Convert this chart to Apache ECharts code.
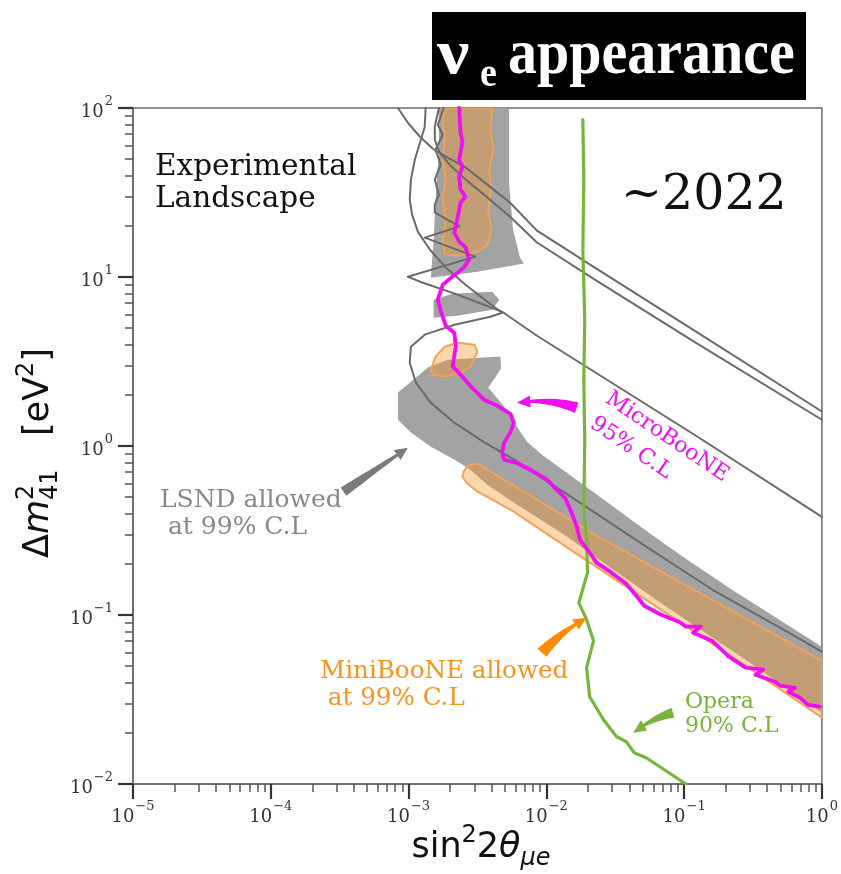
<!DOCTYPE html>
<html><head><meta charset="utf-8">
<script src="https://cdn.jsdelivr.net/npm/echarts@6/dist/echarts.min.js"></script>
<style>html,body{margin:0;padding:0;background:#fff}#c{width:841px;height:874px}</style>
</head><body><div id="c"></div>
<script>
// ---------------- axes ----------------
const xRange = [1e-5, 1];
const yRange = [1e-2, 1e2];

// ---------------- LSND allowed (gray fill) [sin^2 2theta, dm^2] ----------------
const lsndTop = [[1.66e-3,100],[5.37e-3,100],[5.37e-3,35.2],[5.74e-3,19.0],[6.44e-3,13.0],[6.89e-3,12.0],[3.16e-3,10.75],[1.45e-3,9.91],[1.52e-3,16.6],[1.57e-3,28.7],[1.66e-3,56.6]];
const lsndPatch = [[1.52e-3,7.34],[2.09e-3,7.96],[4.05e-3,8.18],[4.55e-3,7.34],[4.05e-3,6.41],[2.27e-3,5.90],[1.52e-3,5.74]];
const lsndMain = [[8.38e-4,2.07],[1.04e-3,2.40],[1.38e-3,2.91],[1.92e-3,3.24],[4.63e-3,3.38],[4.70e-3,2.87],[3.79e-3,2.21],[4.94e-3,1.71],[6.13e-3,1.30],[7.24e-3,1.06],[9.29e-3,0.889],[2.56e-2,0.488],[5.30e-2,0.315],[9.79e-2,0.221],[0.236,0.137],[1,0.0649],[1,0.0264],[0.279,0.0544],[6.25e-2,0.123],[3.07e-2,0.185],[1.34e-2,0.299],[6.13e-3,0.449],[3.73e-3,0.590],[2.81e-3,0.724],[2.16e-3,0.830],[1.45e-3,0.991],[1.04e-3,1.20],[8.38e-4,1.43]];

// ---------------- MiniBooNE allowed (orange fill) ----------------
const mbColumn = [[1.80e-3,100],[4.05e-3,100],[3.92e-3,74.4],[4.12e-3,56.6],[3.85e-3,43.2],[3.98e-3,32.9],[3.79e-3,25.0],[3.98e-3,19.0],[3.73e-3,15.5],[3.16e-3,14.1],[2.27e-3,13.4],[1.83e-3,13.7],[1.77e-3,16.6],[1.86e-3,21.8],[1.77e-3,28.7],[1.86e-3,37.7],[1.77e-3,49.4],[1.83e-3,64.9],[1.77e-3,85.3]];
const mbBlob = [[1.45e-3,2.83],[1.57e-3,3.38],[1.83e-3,3.87],[2.27e-3,4.08],[3.01e-3,3.97],[3.16e-3,3.61],[2.81e-3,2.95],[2.38e-3,2.71],[1.83e-3,2.57],[1.50e-3,2.64]];
const mbBand = [[2.51e-3,0.705],[2.68e-3,0.764],[3.16e-3,0.786],[2.31e-2,0.295],[0.122,0.139],[1,0.0537],[1,0.0247],[0.279,0.0501],[5.30e-2,0.123],[1.66e-2,0.230],[5.83e-3,0.408],[4.05e-3,0.481],[3.16e-3,0.537],[2.68e-3,0.598],[2.46e-3,0.658]];

// ---------------- LSND contour lines ----------------
const lsndLineA = [[8.38e-4,100],[9.89e-4,81.8],[1.21e-3,67.6],[1.50e-3,57.4],[1.92e-3,50.8],[2.55e-3,45.0],[3.73e-3,35.2],[5.46e-3,27.5],[8.55e-3,18.8],[2.31e-2,11.2],[0.122,4.75],[1,1.60]];
const lsndLineB = [[1.66e-3,100],[1.55e-3,77.5],[1.55e-3,64.9],[1.68e-3,54.4],[1.99e-3,46.2],[2.55e-3,38.2],[3.73e-3,29.5],[5.46e-3,22.7],[8.55e-3,16.0],[2.31e-2,9.51],[0.122,4.08],[1,1.43]];
const lsndLineC = [[1.33e-3,100],[1.31e-3,77.5],[1.21e-3,62.3],[1.11e-3,49.4],[1.04e-3,37.7],[1.02e-3,28.7],[1.06e-3,23.4],[1.17e-3,18.5],[1.43e-3,14.5],[1.86e-3,11.4],[2.59e-3,9.0],[3.73e-3,7.14],[4.78e-3,6.15],[3.92e-3,5.82],[2.16e-3,5.22],[1.31e-3,4.56],[1.04e-3,3.87],[1.02e-3,3.11],[1.13e-3,2.37],[1.45e-3,1.80],[2.16e-3,1.37],[3.55e-3,1.05],[5.83e-3,0.830],[1.75e-2,0.462],[5.30e-2,0.254],[0.161,0.141],[0.481,0.0853],[1,0.0607]];
const lsndLineD = [[1.80e-3,100],[1.63e-3,79.6],[1.77e-3,69.5],[1.57e-3,56.6],[1.71e-3,46.2],[1.55e-3,37.7],[1.66e-3,30.7],[1.55e-3,26.8],[1.55e-3,24.0],[2.34e-3,19.9],[1.31e-3,17.1],[3.05e-3,13.2],[9.89e-4,10.04],[1.21e-3,9.38],[2.27e-3,7.86],[4.78e-3,6.23],[8.55e-3,4.49],[0.122,1.15],[1,0.381]];

// ---------------- Opera 90% C.L ----------------
const opera = [[1.84e-2,85.3],[1.87e-2,37.7],[1.84e-2,14.5],[1.90e-2,5.59],[1.87e-2,2.47],[1.90e-2,1.09],[1.87e-2,0.437],[1.96e-2,0.279],[1.99e-2,0.178],[1.72e-2,0.118],[1.96e-2,0.0938],[2.20e-2,0.0705],[1.96e-2,0.0488],[2.06e-2,0.0329],[2.60e-2,0.0240],[3.22e-2,0.0191],[3.80e-2,0.0178],[4.34e-2,0.0153],[5.30e-2,0.0143],[0.103,0.01]];

// ---------------- MicroBooNE 95% C.L ----------------
const microboone = [[2.33e-3,100],[2.38e-3,71.4],[2.46e-3,63.2],[2.33e-3,49.4],[2.46e-3,45.0],[2.33e-3,39.2],[2.38e-3,32.9],[2.59e-3,29.9],[2.38e-3,27.5],[2.33e-3,25.0],[2.27e-3,22.4],[2.15e-3,18.3],[2.33e-3,16.2],[2.60e-3,14.9],[2.75e-3,12.7],[2.53e-3,11.4],[2.09e-3,10.08],[1.77e-3,9.0],[1.63e-3,7.34],[1.72e-3,6.23],[1.86e-3,5.15],[2.15e-3,4.66],[2.20e-3,3.87],[2.09e-3,2.96],[2.39e-3,2.64],[2.83e-3,2.25],[3.53e-3,1.88],[4.28e-3,1.75],[5.49e-3,1.55],[5.81e-3,1.37],[5.46e-3,1.20],[4.92e-3,1.04],[4.78e-3,0.912],[4.94e-3,0.830],[6.13e-3,0.793],[7.64e-3,0.724],[1.01e-2,0.632],[1.19e-2,0.551],[1.37e-2,0.492],[1.53e-2,0.401],[1.66e-2,0.334],[1.75e-2,0.279],[2.07e-2,0.233],[2.31e-2,0.204],[2.97e-2,0.178],[3.80e-2,0.153],[4.49e-2,0.130],[5.13e-2,0.1135],[6.80e-2,0.1004],[9.16e-2,0.0912],[0.103,0.0853],[0.132,0.0853],[0.116,0.0786],[0.159,0.0705],[0.210,0.0569],[0.279,0.0488],[0.376,0.0475],[0.329,0.0443],[0.458,0.0403],[0.498,0.0382],[0.638,0.0371],[0.569,0.0352],[0.693,0.0324],[0.792,0.0294],[0.966,0.0287]];

// ---------------- annotation arrows [tail, head] ----------------
const arrowLSND = [[3.37e-4,0.537],[9.89e-4,0.977]];
const arrowMicro = [[1.66e-2,1.685],[6.13e-3,1.80]];
const arrowMini = [[9.29e-3,0.0598],[1.96e-2,0.0964]];
const arrowOpera = [[8.30e-2,0.0264],[4.27e-2,0.0201]];

// colours
const C_GRAY_FILL = '#a3a3a3', C_LINE = '#6a6a6a';
const C_ORANGE_FILL = 'rgba(248,150,40,0.38)', C_ORANGE_EDGE = '#efa25a';
const C_MAG = '#ee10ee', C_GREEN = '#78b43c', C_ORANGE_TXT = '#f7941d', C_GRAY_TXT = '#888888';

function polygonSeries(pts, fill, stroke, lw, z) {
  return { type: 'custom', coordinateSystem: 'cartesian2d', clip: true, z: z, silent: true, data: pts,
    renderItem: function (params, api) {
      if (params.dataIndex !== 0) return null;
      return { type: 'polygon', shape: { points: pts.map(function (p) { return api.coord(p); }) },
        style: { fill: fill, stroke: stroke || null, lineWidth: lw || 0, lineJoin: 'round' } };
    } };
}
function lineSeries(pts, color, width, z) {
  return { type: 'line', data: pts, symbol: 'none', showSymbol: false, clip: true, z: z, silent: true,
    lineStyle: { color: color, width: width, join: 'round', cap: 'round' } };
}
function arrowPoly(p0, p1, o) {
  const dx = p1[0] - p0[0], dy = p1[1] - p0[1], L = Math.hypot(dx, dy);
  const nx = -dy / L, ny = dx / L;
  const c = [(p0[0] + p1[0]) / 2 + nx * o.curv * L, (p0[1] + p1[1]) / 2 + ny * o.curv * L];
  const bez = function (t) { return [(1-t)*(1-t)*p0[0] + 2*(1-t)*t*c[0] + t*t*p1[0], (1-t)*(1-t)*p0[1] + 2*(1-t)*t*c[1] + t*t*p1[1]]; };
  const tan = function (t) { const a = 2*(1-t)*(c[0]-p0[0]) + 2*t*(p1[0]-c[0]); const b = 2*(1-t)*(c[1]-p0[1]) + 2*t*(p1[1]-c[1]); const l = Math.hypot(a, b); return [a/l, b/l]; };
  const tN = 1 - o.headLen / L, N = 16, left = [], right = [];
  for (let i = 0; i <= N; i++) {
    const t = tN * i / N, p = bez(t), d = tan(t), w = (o.wTail + (o.wNeck - o.wTail) * i / N) / 2;
    left.push([p[0] - d[1] * w, p[1] + d[0] * w]);
    right.push([p[0] + d[1] * w, p[1] - d[0] * w]);
  }
  const pb = bez(tN), db = tan(tN), hw = o.headW / 2;
  const hl = [pb[0] - db[1] * hw, pb[1] + db[0] * hw], hr = [pb[0] + db[1] * hw, pb[1] - db[0] * hw];
  return left.concat([hl, p1, hr]).concat(right.reverse());
}
function arrowSeries(pts, color, o, z) {
  return { type: 'custom', coordinateSystem: 'cartesian2d', clip: false, z: z, silent: true, data: pts,
    renderItem: function (params, api) {
      if (params.dataIndex !== 0) return null;
      return { type: 'polygon', shape: { points: arrowPoly(api.coord(pts[0]), api.coord(pts[1]), o) }, style: { fill: color } };
    } };
}

// ---- text helpers ----
const mctx = document.createElement('canvas').getContext('2d');
function tw(font, s) { mctx.font = font; return mctx.measureText(s).width; }
function txt(s, font, fill, x, baseline, size, extra) {
  const o = { type: 'text', x: x, y: baseline - 0.346 * size, z: 100,
    style: { text: s, font: font, fill: fill, textAlign: 'left', textVerticalAlign: 'middle', align: 'left', verticalAlign: 'middle' } };
  if (extra) Object.assign(o, extra);
  return o;
}
// math-like row: parts {t, size, italic, dy, stack}
function mathRow(parts, family) {
  let u = 0; const kids = [];
  for (let i = 0; i < parts.length; i++) {
    const p = parts[i];
    const font = (p.italic ? 'italic ' : '') + p.size + 'px "' + family + '"';
    kids.push({ type: 'text', x: u, y: p.dy - 0.346 * p.size, style: { text: p.t, font: font, fill: '#111', textAlign: 'left', textVerticalAlign: 'middle', align: 'left', verticalAlign: 'middle' } });
    const w = tw(font, p.t);
    if (p.stack) { p._w = w; continue; }
    const prev = parts[i - 1];
    u += (prev && prev.stack) ? Math.max(w, prev._w) : w;
  }
  return { kids: kids, width: u };
}

const FS = 35, FSs = 24;
const yName = mathRow([
  { t: 'Δ', size: FS, dy: 0 }, { t: 'm', size: FS, italic: true, dy: 0 },
  { t: '2', size: FSs, dy: -16, stack: true }, { t: '41', size: FSs, italic: false, dy: 8 },
  { t: '   [eV', size: FS, dy: 0 }, { t: '2', size: FSs, dy: -16 }, { t: ']', size: FS, dy: 0 }
], 'DejaVu Sans');
const xName = mathRow([
  { t: 'sin', size: FS, dy: 0 }, { t: '2', size: FSs, dy: -16 }, { t: '2', size: FS, dy: 0 },
  { t: 'θ', size: FS, italic: true, dy: 0 }, { t: 'μe', size: FSs, italic: true, dy: 7 }
], 'DejaVu Sans');

function expLabel(v) {
  const e = Math.round(Math.log10(v));
  return '{b|10}{e|' + (e < 0 ? '\u2212' + (-e) : e) + '}';
}
const labelRich = { b: { fontFamily: 'DejaVu Serif', fontSize: 18, color: '#333', lineHeight: 26, verticalAlign: 'bottom' },
  e: { fontFamily: 'DejaVu Serif', fontSize: 13, color: '#333', lineHeight: 26, verticalAlign: 'top', padding: [0, 0, 0, 1] } };

const axisCommon = {
  type: 'log', logBase: 10,
  axisLine: { show: true, lineStyle: { color: '#666', width: 1.5 } },
  axisTick: { show: true, inside: false, length: 15, lineStyle: { color: '#333', width: 2.2 } },
  minorTick: { show: true, splitNumber: 9, length: 8, lineStyle: { color: '#555', width: 1.5 } },
  splitLine: { show: false }, minorSplitLine: { show: false }
};

const chart = echarts.init(document.getElementById('c'), null, { renderer: 'canvas', width: 841, height: 874 });
chart.setOption({
  animation: false,
  backgroundColor: '#fff',
  grid: { left: 133, right: 14, top: 108, bottom: 90, show: true, borderColor: '#6a6a6a', borderWidth: 1.5, backgroundColor: 'transparent' },
  xAxis: Object.assign({}, axisCommon, { min: xRange[0], max: xRange[1],
    axisLabel: { margin: 16, fontSize: 18, formatter: expLabel, rich: labelRich } }),
  yAxis: Object.assign({}, axisCommon, { min: yRange[0], max: yRange[1],
    axisLabel: { margin: 20, fontSize: 18, formatter: expLabel, rich: labelRich } }),
  series: [
    polygonSeries(lsndTop, C_GRAY_FILL, null, 0, 1),
    polygonSeries(lsndPatch, C_GRAY_FILL, null, 0, 1),
    polygonSeries(lsndMain, C_GRAY_FILL, null, 0, 1),
    polygonSeries(mbColumn, C_ORANGE_FILL, C_ORANGE_EDGE, 2, 2),
    polygonSeries(mbBlob, C_ORANGE_FILL, C_ORANGE_EDGE, 2, 2),
    polygonSeries(mbBand, C_ORANGE_FILL, C_ORANGE_EDGE, 2, 2),
    lineSeries(lsndLineA, C_LINE, 2, 3),
    lineSeries(lsndLineB, C_LINE, 2, 3),
    lineSeries(lsndLineC, C_LINE, 2, 3),
    lineSeries(lsndLineD, C_LINE, 2, 3),
    lineSeries(opera, C_GREEN, 3.2, 4),
    lineSeries(microboone, C_MAG, 3.8, 5),
    arrowSeries(arrowLSND, '#7a7a7a', { curv: 0.0, wTail: 10, wNeck: 3, headLen: 13, headW: 12 }, 6),
    arrowSeries(arrowMicro, C_MAG, { curv: 0.12, wTail: 11, wNeck: 3, headLen: 13, headW: 12 }, 6),
    arrowSeries(arrowMini, '#ff8c00', { curv: -0.08, wTail: 12, wNeck: 3, headLen: 13, headW: 12 }, 6),
    arrowSeries(arrowOpera, C_GREEN, { curv: 0.1, wTail: 10, wNeck: 3, headLen: 13, headW: 12 }, 6)
  ],
  graphic: [
    // title box
    { type: 'rect', shape: { x: 432, y: 12, width: 374, height: 88 }, style: { fill: '#000' }, z: 100 },
    txt('ν', 'bold 58px "Liberation Serif"', '#fff', 437, 78, 58 * 1.08, { scaleX: 1.25, scaleY: 1.08 }),
    txt('e', 'bold 38px "Liberation Serif"', '#fff', 480, 90, 38 * 1.08, { scaleY: 1.08 }),
    txt('appearance', 'bold 58px "Liberation Serif"', '#fff', 508, 78, 58 * 1.08, { scaleY: 1.08 }),
    // annotations
    txt('Experimental', '29.5px "DejaVu Serif"', '#111', 155, 178, 29.5),
    txt('Landscape', '29.5px "DejaVu Serif"', '#111', 155, 210, 29.5),
    txt('~2022', '49px "DejaVu Serif"', '#111', 621, 213, 49),
    txt('LSND allowed', '25px "DejaVu Serif"', C_GRAY_TXT, 160, 509, 25),
    txt(' at 99% C.L', '25px "DejaVu Serif"', C_GRAY_TXT, 160, 536, 25),
    txt('MiniBooNE allowed', '24.6px "DejaVu Serif"', C_ORANGE_TXT, 320, 680, 24.6),
    txt(' at 99% C.L', '24.6px "DejaVu Serif"', C_ORANGE_TXT, 320, 707, 24.6),
    txt('Opera', '22px "DejaVu Serif"', C_GREEN, 685, 710, 22),
    txt('90% C.L', '22px "DejaVu Serif"', C_GREEN, 685, 734, 22),
    { type: 'text', x: 667, y: 437, rotation: -0.594, z: 100, style: { text: 'MicroBooNE', font: '22px "DejaVu Serif"', fill: C_MAG, textAlign: 'center', textVerticalAlign: 'middle', align: 'center', verticalAlign: 'middle' } },
    { type: 'text', x: 631, y: 448, rotation: -0.594, z: 100, style: { text: '95% C.L', font: '22px "DejaVu Serif"', fill: C_MAG, textAlign: 'center', textVerticalAlign: 'middle', align: 'center', verticalAlign: 'middle' } },
    // axis names
    { type: 'group', x: 51, y: 558, rotation: Math.PI / 2, z: 100, children: yName.kids },
    { type: 'group', x: 481 - xName.width / 2, y: 860, z: 100, children: xName.kids }
  ]
});
</script>
</body></html>
